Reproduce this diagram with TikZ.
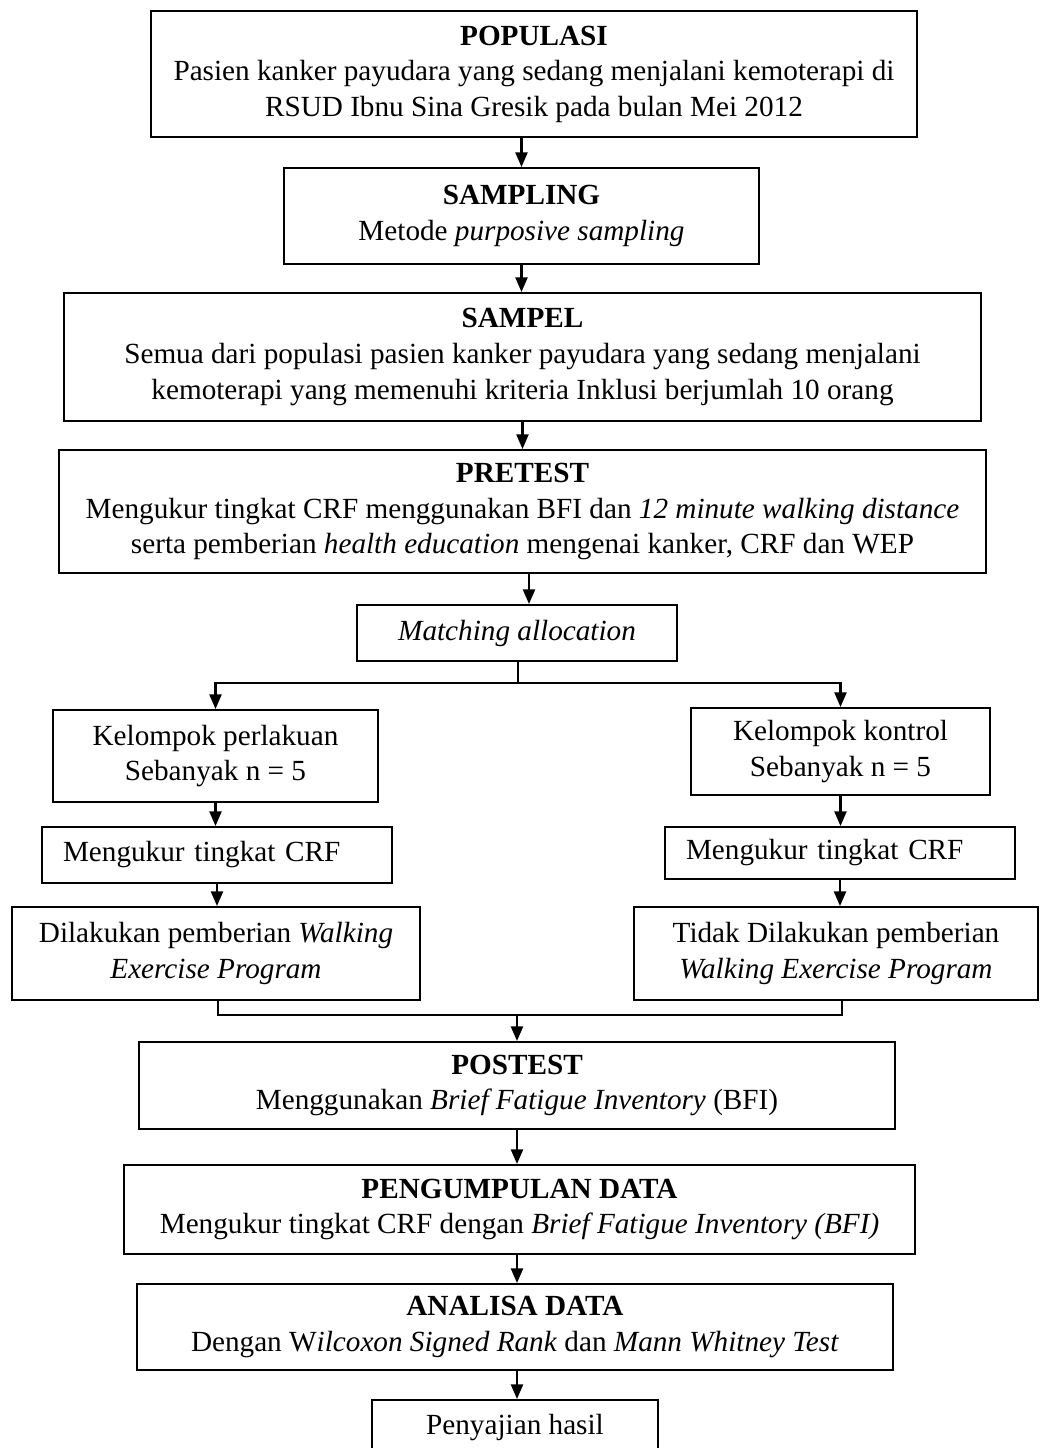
\documentclass[tikz,border=0pt]{standalone}
\usepackage{fontspec}
\setmainfont{Liberation Serif}
\usetikzlibrary{arrows.meta,positioning}
\newlength{\px}
\setlength{\px}{0.01384cm}

\begin{document}
\begin{tikzpicture}[x=\px,y=-\px]
\tikzstyle{kotak}=[draw,line width=0.8pt,inner sep=0pt,align=center,font=\fontsize{11.5}{14}\selectfont]
\tikzstyle{kiri}=[kotak,align=left,inner xsep=21\px,text width=308\px]
\tikzstyle{panah}=[line width=0.8pt,-{Triangle[width=4.8pt,length=5.8pt]}]
\tikzstyle{garis}=[line width=0.8pt]
\useasboundingbox (0,0) rectangle (1040,1448);

\node[kotak,minimum width=766\px,minimum height=126\px] (populasi) at (534,74) {\textbf{POPULASI}\\Pasien kanker payudara yang sedang menjalani kemoterapi di\\RSUD Ibnu Sina Gresik pada bulan Mei 2012};
\node[kotak,minimum width=475\px,minimum height=96\px] (sampling) at (521.5,216) {\textbf{SAMPLING}\\Metode \textit{purposive sampling}};
\node[kotak,minimum width=917\px,minimum height=128\px] (sampel) at (522.5,357) {\textbf{SAMPEL}\\Semua dari populasi pasien kanker payudara yang sedang menjalani\\kemoterapi yang memenuhi kriteria Inklusi berjumlah 10 orang};
\node[kotak,minimum width=927\px,minimum height=123\px] (pretest) at (522.5,511.5) {\textbf{PRETEST}\\Mengukur tingkat CRF menggunakan BFI dan \textit{12 minute walking distance}\\serta pemberian \textit{health education} mengenai kanker, CRF dan WEP};
\node[kotak,minimum width=320\px,minimum height=56\px] (matching) at (517,633) {\textit{Matching allocation}};

\node[kotak,minimum width=325\px,minimum height=92\px] (perlakuan) at (215.5,756) {Kelompok perlakuan\\Sebanyak n = 5};
\node[kotak,minimum width=299\px,minimum height=87\px] (kontrol) at (840.5,751.5) {Kelompok kontrol\\Sebanyak n = 5};
\node[kiri,minimum height=56\px] (ukur1) at (217,855) {Mengukur tingkat CRF};
\node[kiri,minimum height=52\px] (ukur2) at (840,853) {Mengukur tingkat CRF};
\node[kotak,minimum width=408\px,minimum height=93\px] (dilakukan) at (216,953.5) {Dilakukan pemberian \textit{Walking}\\\textit{Exercise Program}};
\node[kotak,minimum width=404\px,minimum height=93\px] (tidak) at (836,953.5) {Tidak Dilakukan pemberian\\\textit{Walking Exercise Program}};

\node[kotak,minimum width=756\px,minimum height=87\px] (postest) at (517,1085.5) {\textbf{POSTEST}\\Menggunakan \textit{Brief Fatigue Inventory} (BFI)};
\node[kotak,minimum width=791\px,minimum height=89\px] (pengumpulan) at (519.5,1209.5) {\textbf{PENGUMPULAN DATA}\\Mengukur tingkat CRF dengan \textit{Brief Fatigue Inventory (BFI)}};
\node[kotak,minimum width=756\px,minimum height=86\px] (analisa) at (515,1327) {\textbf{ANALISA DATA}\\Dengan W\textit{ilcoxon Signed Rank} dan \textit{Mann Whitney Test}};
\node[kotak,minimum width=286\px,minimum height=56\px] (penyajian) at (515,1428) {Penyajian hasil};

\coordinate (cabang) at (518,683);
\coordinate (gabung1) at (218,1015);
\coordinate (gabung2) at (842,1015);

\draw[panah] (populasi.south -| sampling.north) -- (sampling.north);
\draw[panah] (sampling.south) -- (sampling.south |- sampel.north);
\draw[panah] (sampel.south) -- (sampel.south |- pretest.north);
\draw[panah] ([xshift=12\px]matching.north |- pretest.south) -- ([xshift=12\px]matching.north);
\draw[garis] (matching.south -| cabang) -- (cabang);
\draw[panah] (cabang) -| (perlakuan.north);
\draw[panah] (cabang) -| (kontrol.north);
\draw[panah] (perlakuan.south) -- (perlakuan.south |- ukur1.north);
\draw[panah] (ukur1.south) -- (ukur1.south |- dilakukan.north);
\draw[panah] (kontrol.south) -- (kontrol.south |- ukur2.north);
\draw[panah] (ukur2.south) -- (ukur2.south |- tidak.north);
\draw[garis] (dilakukan.south -| gabung1) -- (gabung1) -- (gabung2) -- (gabung2 |- tidak.south);
\draw[panah] (postest.north |- gabung1) -- (postest.north);
\draw[panah] (postest.south) -- (postest.south |- pengumpulan.north);
\draw[panah] (pengumpulan.south -| postest.south) -- (postest.south |- analisa.north);
\draw[panah] (analisa.south -| postest.south) -- (postest.south |- penyajian.north);
\end{tikzpicture}
\end{document}
